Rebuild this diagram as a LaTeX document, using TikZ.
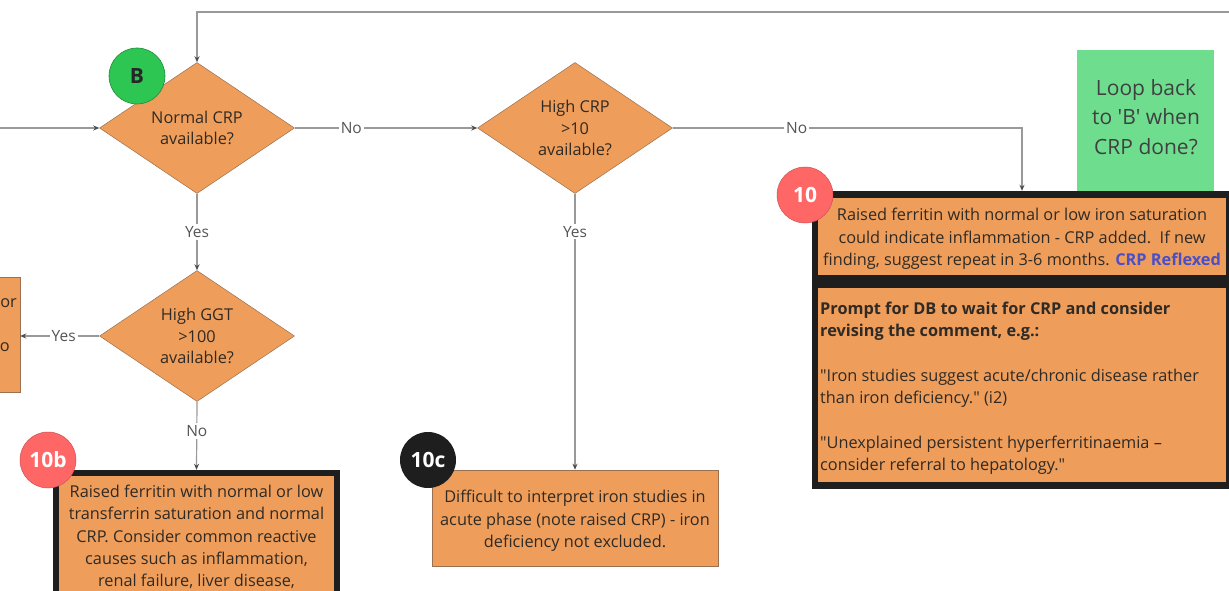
\documentclass[tikz,border=0pt]{standalone}
\usepackage{fontspec}
\setmainfont{Open Sans}[Ligatures=TeXOff]
\usetikzlibrary{shapes.geometric,arrows.meta}
\definecolor{orng}{HTML}{EE9E5A}
\definecolor{orngline}{HTML}{9A7050}
\definecolor{blk}{HTML}{1E1E1E}
\definecolor{grn}{HTML}{2DC653}
\definecolor{grnline}{HTML}{1E8C3A}
\definecolor{lgrn}{HTML}{6EDE8E}
\definecolor{redc}{HTML}{FF6767}
\definecolor{conn}{HTML}{999999}
\definecolor{lbltxt}{HTML}{555555}
\definecolor{boxtxt}{HTML}{2F2A25}
\definecolor{crpblue}{HTML}{4A4FC8}
\tikzset{
  dec/.style={diamond, draw=orngline, line width=0.5pt, fill=orng, inner sep=0pt,
    minimum width=195pt, minimum height=131pt, align=center, text=boxtxt,
    font=\fontsize{16.3}{21.2}\selectfont},
  conline/.style={draw=conn, line width=1.2pt, -{Stealth[length=6pt,width=5pt,color=black!70]}},
  lbl/.style={fill=white, inner sep=2pt, text=lbltxt, font=\fontsize{15.5}{17}\selectfont},
  badge/.style={circle, minimum size=56pt, inner sep=0pt, text=white,
    font=\fontsize{21}{23}\selectfont\bfseries},
  boxtext/.style={text=boxtxt, font=\fontsize{16.3}{22.3}\selectfont, align=center},
}
\begin{document}
\begin{tikzpicture}[x=1pt,y=-1pt]
\path[use as bounding box] (0,0) rectangle (1229,591);
\clip (0,0) rectangle (1229,591);
\fill[white] (0,0) rectangle (1229,591);

% coordinates for free ends
\coordinate (inL) at (0,128);
\coordinate (loopR) at (1240,12);

% green note (behind box 10)
\node[fill=lgrn, minimum width=137pt, minimum height=141pt, inner sep=0pt] (note) at (1145.5,120.5) {};
\node[align=center, text=black!75, inner sep=0pt, font=\fontsize{21}{29.5}\selectfont]
  (notet) at (1146,117) {Loop back\\to 'B' when\\CRP done?};

% decisions
\node[dec] (d1) at (197,128) {Normal CRP\\available?};
\node[dec] (d2) at (575,128) {High CRP\\>10\\available?};
\node[dec] (d3) at (197,336) {High GGT\\>100\\available?};

% left partial box
\node[fill=orng, draw=orngline, line width=0.5pt, minimum width=140pt, minimum height=115pt, inner sep=0pt]
  (lb) at (-50,334.5) {};
\node[boxtext, anchor=east, inner sep=0pt] (lbt1) at (17,303) {or};
\node[boxtext, anchor=east, inner sep=0pt] (lbt2) at (10,347) {o};

% box 10
\node[fill=blk, minimum width=420pt, minimum height=298pt, inner sep=0pt] (b10) at (1022,340) {};
\node[fill=orng, minimum width=408pt, minimum height=77pt, inner sep=0pt] (s1) at (1022,236.5) {};
\node[boxtext, inner sep=0pt] (s1t) at (1022,239)
  {Raised ferritin with normal or low iron saturation\\could indicate inflammation - CRP added.\ \ If new\\finding, suggest repeat in 3-6 months. \textcolor{crpblue}{\bfseries CRP Reflexed}};
\node[fill=orng, minimum width=408pt, minimum height=194pt, inner sep=0pt] (s2) at (1022,385) {};
\node[anchor=north west, inner sep=0pt, text=boxtxt, align=left,
  font=\fontsize{16.3}{22.3}\selectfont] (s2t) at (820,302)
  {\textbf{Prompt for DB to wait for CRP and consider}\\
   \textbf{revising the comment, e.g.:}\\[22.3pt]
   "Iron studies suggest acute/chronic disease rather\\
   than iron deficiency." (i2)\\[22.3pt]
   "Unexplained persistent hyperferritinaemia –\\
   consider referral to hepatology."};

% box 10b
\node[fill=blk, minimum width=287pt, minimum height=160pt, inner sep=0pt] (b10b) at (196.5,550) {};
\node[fill=orng, minimum width=275pt, minimum height=150pt, inner sep=0pt] (s10b) at (196.5,551) {};
\node[boxtext, anchor=north, inner sep=0pt] (t10b) at (196.5,485)
  {Raised ferritin with normal or low\\transferrin saturation and normal\\CRP. Consider common reactive\\causes such as inflammation,\\renal failure, liver disease,};

% box 10c
\node[fill=orng, draw=orngline, line width=0.5pt, minimum width=286pt, minimum height=96pt,
  inner sep=0pt] (b10c) at (575,518) {};
\node[boxtext, inner sep=0pt] (t10c) at (575,521)
  {Difficult to interpret iron studies in\\acute phase (note raised CRP) - iron\\deficiency not excluded.};

% badges
\node[badge, fill=grn, draw=grnline, line width=0.6pt, text=black!85] (cB) at (137,76) {B};
\node[badge, fill=redc, draw=redc!80!black, line width=0.5pt] (c10) at (805,195) {10};
\node[badge, fill=redc, draw=redc!80!black, line width=0.5pt] (c10b) at (48,460) {10b};
\node[badge, fill=blk] (c10c) at (428,460) {10c};

% connectors
\draw[conline] (inL) -- (d1.west);
\draw[conline] (loopR) -| (d1.north);
\draw[conline] (d1.east) -- node[lbl, pos=0.31] {No} (d2.west);
\draw[conline] (d2.east) -- node[lbl, pos=0.355] {No} (d2.east -| b10.north) -- (b10.north);
\draw[conline] (d1.south) -- node[lbl] {Yes} (d3.north);
\draw[conline] (d3.west) -- node[lbl, pos=0.45] {Yes} (d3.west -| lb.east);
\draw[conline] (d3.south) -- node[lbl, pos=0.43] {No} (b10b.north);
\draw[conline] (d2.south) -- node[lbl, pos=0.137] {Yes} (b10c.north);
\end{tikzpicture}
\end{document}
